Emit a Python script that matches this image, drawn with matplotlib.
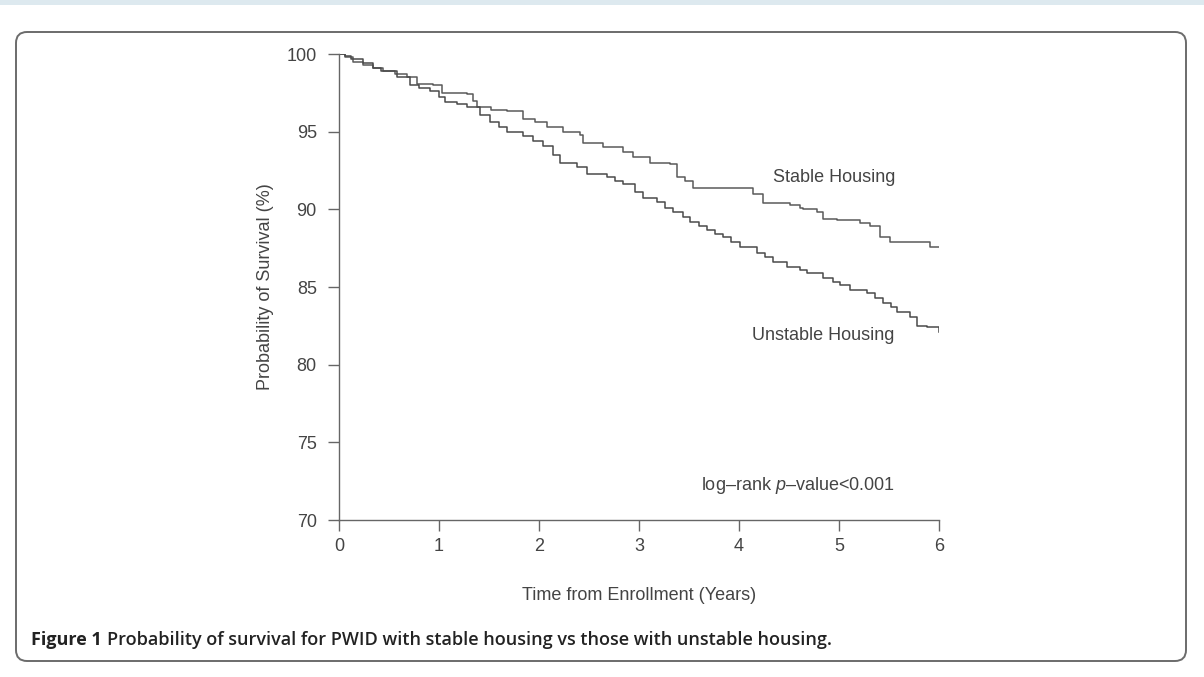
import numpy as np
import matplotlib
matplotlib.use('Agg')
import matplotlib.pyplot as plt
from matplotlib.patches import FancyBboxPatch, Rectangle

plt.rcParams['font.family'] = ['Liberation Sans', 'DejaVu Sans']
plt.rcParams['mathtext.fontset'] = 'custom'
plt.rcParams['mathtext.rm'] = 'Liberation Sans'
plt.rcParams['mathtext.it'] = 'Liberation Sans:italic'

# Kaplan-Meier Stufen (Zeit in Jahren, Ueberleben in %)
t_stable = [0, 0.06, 0.14, 0.24, 0.34, 0.44, 0.56, 0.68, 0.78, 0.94, 1.03, 1.28, 1.34,
            1.38, 1.52, 1.68, 1.84, 1.96, 2.08, 2.24, 2.41, 2.44, 2.64, 2.84, 2.94,
            3.11, 3.31, 3.38, 3.46, 3.54, 4.08, 4.14, 4.24, 4.51, 4.61, 4.64, 4.78,
            4.84, 4.98, 5.21, 5.31, 5.41, 5.51, 5.91, 6.0]
s_stable = [100, 99.8, 99.5, 99.3, 99.1, 98.9, 98.7, 98.5, 98.1, 98.0, 97.5, 97.4, 97.0,
            96.6, 96.4, 96.3, 95.8, 95.6, 95.3, 95.0, 94.8, 94.3, 94.0, 93.7, 93.4,
            93.0, 92.9, 92.1, 91.8, 91.4, 91.4, 91.0, 90.4, 90.3, 90.1, 90.0, 89.8,
            89.4, 89.3, 89.1, 88.9, 88.2, 87.9, 87.6, 87.6]

t_unstable = [0, 0.06, 0.12, 0.24, 0.34, 0.42, 0.58, 0.71, 0.80, 0.91, 1.00, 1.06, 1.18,
              1.28, 1.41, 1.51, 1.60, 1.68, 1.84, 1.94, 2.04, 2.14, 2.21, 2.38, 2.48,
              2.68, 2.76, 2.84, 2.96, 3.04, 3.18, 3.26, 3.34, 3.44, 3.51, 3.60, 3.68,
              3.76, 3.84, 3.92, 4.01, 4.18, 4.26, 4.34, 4.48, 4.61, 4.68, 4.84, 4.94,
              5.01, 5.11, 5.28, 5.36, 5.44, 5.52, 5.58, 5.71, 5.78, 5.88, 6.0]
s_unstable = [100, 99.9, 99.7, 99.4, 99.1, 98.9, 98.5, 98.0, 97.8, 97.6, 97.2, 96.9, 96.8,
              96.6, 96.1, 95.6, 95.3, 95.0, 94.7, 94.4, 94.1, 93.5, 93.0, 92.7, 92.3,
              92.1, 91.8, 91.6, 91.1, 90.7, 90.5, 90.1, 89.8, 89.5, 89.2, 88.9, 88.7,
              88.4, 88.2, 87.9, 87.6, 87.2, 86.9, 86.6, 86.3, 86.1, 85.9, 85.6, 85.3,
              85.1, 84.8, 84.6, 84.3, 84.0, 83.7, 83.4, 83.1, 82.5, 82.4, 82.1]

x_ticks = [0, 1, 2, 3, 4, 5, 6]
y_ticks = [70, 75, 80, 85, 90, 95, 100]

W, H = 1204, 677
fig = plt.figure(figsize=(W / 100, H / 100), dpi=100)

# Hintergrund: Band oben und Rahmen mit runden Ecken (Pixelkoordinaten)
bg = fig.add_axes([0, 0, 1, 1])
bg.set_xlim(0, W)
bg.set_ylim(H, 0)
bg.axis('off')
bg.add_patch(Rectangle((0, 0), W, 5, facecolor='#dde9ef', edgecolor='none'))
bg.add_patch(FancyBboxPatch((27, 43), 1148, 607, boxstyle='round,pad=11,rounding_size=11',
                            facecolor='white', edgecolor='#6b6b6b', linewidth=1.4))

grau = '#444444'
fs = 13
ax = fig.add_axes([339 / W, 1 - 520 / H, 600 / W, 466 / H])
ax.step(t_stable, s_stable, where='post', color='#5a5a5a', lw=1.1)
ax.step(t_unstable, s_unstable, where='post', color='#4a4a4a', lw=1.1)
ax.set_xlim(0, 6)
ax.set_ylim(70, 100)
ax.set_xticks(x_ticks)
ax.set_yticks(y_ticks)
ax.patch.set_alpha(0)
for s in ['top', 'right']:
    ax.spines[s].set_visible(False)
for s in ['left', 'bottom']:
    ax.spines[s].set_color('#666666')
    ax.spines[s].set_linewidth(1.0)
ax.tick_params(axis='both', direction='out', length=8, width=1.0, color='#666666',
               labelcolor=grau, labelsize=fs)
ax.tick_params(axis='y', pad=8)
ax.tick_params(axis='x', pad=5)

ax.set_xlabel('Time from Enrollment (Years)', fontsize=fs, color=grau, va='center')
ax.xaxis.set_label_coords(0.5, (520 - 595) / 466)
ax.set_ylabel('Probability of Survival (%)', fontsize=fs, color=grau, va='center')
ax.yaxis.set_label_coords((265 - 339) / 600, 0.5)

ax.text(4.955, 92.08, 'Stable Housing', fontsize=fs, color=grau, ha='center', va='center')
ax.text(4.845, 81.9, 'Unstable Housing', fontsize=fs, color=grau, ha='center', va='center')
ax.text(3.62, 72.25, 'log\u2013rank $p$\u2013value<0.001', fontsize=fs, color=grau,
        ha='left', va='center')

# Bildunterschrift
fig.canvas.draw()
r = fig.canvas.get_renderer()
t1 = bg.text(31, 640, 'Figure 1', fontsize=13, fontweight='bold', color='#222222',
             family=['Open Sans', 'DejaVu Sans'], va='center', ha='left')
bb = t1.get_window_extent(renderer=r)
bg.text(31 + bb.width + 5, 640,
        'Probability of survival for PWID with stable housing vs those with unstable housing.',
        fontsize=13, fontweight='semibold', color='#222222',
        family=['Open Sans', 'DejaVu Sans'], va='center', ha='left')

fig.savefig('out.png', dpi=100)
